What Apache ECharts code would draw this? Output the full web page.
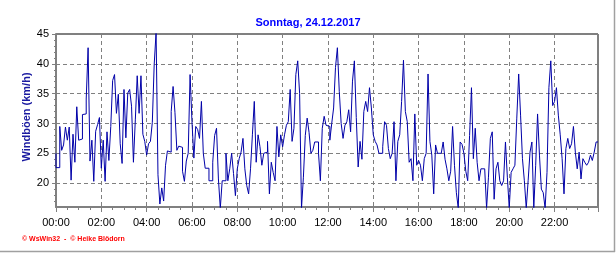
<!DOCTYPE html>
<html>
<head>
<meta charset="utf-8">
<script src="https://cdn.jsdelivr.net/npm/echarts@6/dist/echarts.min.js"></script>
<style>
html,body{margin:0;padding:0;background:#fff;}
#chart{width:616px;height:253px;}
</style>
</head>
<body>
<div id="chart"></div>
<script>
// ---- data ----
const titleText = 'Sonntag, 24.12.2017';
const yAxisTitle = 'Windböen (km/h)';
const footerText = '\u00A9 WsWin32  -  \u00A9 Heike Blödorn';
const sampleStepMinutes = 5;
const yTickValues = [20, 25, 30, 35, 40, 45];
const yMinorTickValues = [17,18,19,21,22,23,24,26,27,28,29,31,32,33,34,36,37,38,39,41,42,43,44];
const xTickLabels = ['00:00','02:00','04:00','06:00','08:00','10:00','12:00','14:00','16:00','18:00','20:00','22:00'];
const yMin = 16, yMax = 45;
const xMin = 0, xMax = 1435, xInterval = 120;
// wind gusts, km/h, one value every 5 minutes from 00:00
const gusts = [
25,22.6,22.6,29.5,25.5,26.4,29.4,27.2,29.4,20.5,
28.2,23.5,32.8,27.2,27.4,31.5,31.6,34.1,42.7,23.7,
27.2,20.3,28.7,29.8,31.0,22.5,27.2,20.3,28.6,23.8,
29.5,37.2,38.2,31.7,34.9,26.6,23.3,35.7,27.6,35.1,
35.7,32.9,23.5,30.6,38.0,31.7,38.0,28.2,27.0,24.7,
26.6,27.0,30.2,39.9,45.3,21.4,16.5,19.2,17.0,23.0,
25.4,25.2,32.0,36.2,31.8,25.5,26.2,26.0,22.0,20.3,
23.7,25.0,38.2,30.3,24.2,29.5,29.0,27.5,33.7,25.0,
22.5,22.5,20.4,20.4,23.5,28.0,29.2,20.7,15.8,20.4,
20.4,25.0,20.4,22.4,25.0,21.6,17.9,22.4,24.1,25.2,
27.5,22.4,19.6,18.2,22.4,28.1,33.7,23.5,28.1,26.1,
23.0,25.0,25.2,27.0,18.2,23.5,21.8,20.4,29.5,24.4,
28.1,26.1,28.1,29.7,30.3,35.7,27.0,29.2,38.2,40.5,
35.0,15.8,21.0,28.0,30.9,28.5,25.0,25.5,26.9,26.9,
25.0,20.4,29.2,31.2,29.7,29.5,27.2,30.0,32.6,39.4,
42.7,35.4,30.0,27.5,29.7,30.3,32.3,28.6,37.1,40.5,
31.0,22.7,27.0,24.0,32.0,33.7,32.0,36.0,32.6,28.1,
27.0,26.4,25.0,25.0,26.1,30.3,29.7,25.8,24.1,25.0,
30.3,20.4,27.0,28.1,33.7,40.6,32.0,30.3,23.5,24.1,
20.4,31.6,23.0,23.8,23.0,20.4,24.1,25.0,38.3,27.0,
24.7,18.2,26.4,25.0,25.0,25.0,26.9,24.0,22.4,20.4,
22.0,29.5,23.0,18.4,15.8,26.9,26.5,25.0,22.0,20.4,
28.0,36.0,24.1,29.2,23.5,20.4,22.4,22.4,22.4,15.8,
21.0,27.5,28.6,17.3,22.4,23.5,20.4,19.6,20.4,26.9,
21.0,15.8,21.8,22.4,23.0,30.9,38.3,31.4,24.1,20.4,
15.8,20.4,25.2,26.9,15.8,23.0,31.6,24.7,19.0,18.4,
15.8,21.8,36.0,40.5,33.0,33.7,36.0,31.4,28.1,24.1,
18.2,25.8,27.5,25.8,26.6,29.5,25.2,22.4,25.2,20.7,
24.1,23.5,23.0,23.5,24.7,23.8,25.2,26.9
];

// ---- chart ----
const seriesData = gusts.map((v, i) => [i * sampleStepMinutes, v]);
const chart = echarts.init(document.getElementById('chart'), null, {renderer: 'canvas'});
const FONT = 'Liberation Sans';
const GRID = {left: 56, right: 18, top: 34, bottom: 46};

chart.setOption({
  animation: false,
  backgroundColor: '#ffffff',
  title: {
    text: titleText, left: 'center', top: 12,
    textStyle: {color: '#0000ff', fontWeight: 'bold', fontSize: 11, fontFamily: FONT}
  },
  grid: Object.assign({show: true, borderColor: '#000000', borderWidth: 1, backgroundColor: 'transparent'}, GRID),
  xAxis: {
    type: 'value', min: xMin, max: xMax, interval: xInterval,
    axisLine: {show: true, lineStyle: {color: '#808080', width: 2}},
    axisTick: {show: true, length: 5, lineStyle: {color: '#808080', width: 1}},
    minorTick: {show: true, splitNumber: 4, length: 3, lineStyle: {color: '#808080', width: 1}},
    splitLine: {show: true, lineStyle: {color: '#808080', type: [4, 3], width: 1}},
    axisLabel: {
      color: '#000', fontSize: 11, fontFamily: FONT, margin: 10, showMaxLabel: false,
      formatter: (val) => {
        const idx = Math.round(val / xInterval);
        return (val % xInterval === 0 && idx < xTickLabels.length) ? xTickLabels[idx] : '';
      }
    }
  },
  yAxis: [{
    type: 'value', min: yMin, max: yMax,
    axisLine: {show: true, lineStyle: {color: '#808080', width: 2}},
    axisTick: {show: true, length: 4, customValues: yTickValues, lineStyle: {color: '#808080'}},
    axisLabel: {customValues: yTickValues, color: '#000', fontSize: 11, fontFamily: FONT, margin: 7},
    splitLine: {show: true, lineStyle: {color: '#808080', type: [4, 3], width: 1}}
  }, {
    type: 'value', min: yMin, max: yMax, position: 'left',
    axisLine: {show: false},
    axisTick: {show: true, length: 2, customValues: yMinorTickValues, lineStyle: {color: '#808080'}},
    axisLabel: {show: false},
    splitLine: {show: false}
  }],
  series: [{
    type: 'line', data: seriesData, showSymbol: false, symbol: 'none', step: 'start',
    xAxisIndex: 0, yAxisIndex: 0, clip: true,
    lineStyle: {color: '#0000a8', width: 1}, z: 5
  }],
  graphic: [
    {type: 'text', x: 27, y: 117, rotation: Math.PI / 2,
     style: {text: yAxisTitle, fill: '#1a1aa0', font: 'bold 11px "Liberation Sans"', align: 'center', verticalAlign: 'middle'}},
    {type: 'text', x: 22, y: 239,
     style: {text: footerText, fill: '#ff0000', font: 'bold 7px "Liberation Sans"', align: 'left', verticalAlign: 'middle'}},
    {type: 'line', shape: {x1: 614.5, y1: 0, x2: 614.5, y2: 252}, style: {stroke: '#a0a0a0', lineWidth: 1.5}},
    {type: 'line', shape: {x1: 0, y1: 251.5, x2: 615, y2: 251.5}, style: {stroke: '#a0a0a0', lineWidth: 1.5}}
  ]
});
</script>
</body>
</html>
